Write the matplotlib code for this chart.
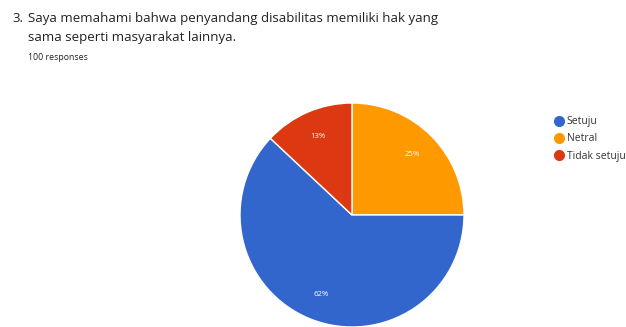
import matplotlib.pyplot as plt
from matplotlib.lines import Line2D

plt.rcParams['font.family'] = ['Open Sans', 'DejaVu Sans']

# answers in legend order
labels = ["Setuju", "Netral", "Tidak setuju"]
percents = [62, 25, 13]
colors = ["#3366cc", "#ff9900", "#dc3912"]

# clockwise from 12 o'clock as drawn in the original
pie_order = [1, 0, 2]

fig = plt.figure(figsize=(6.26, 3.27), dpi=100)
W, H = 626, 327

# question text
fig.text(12 / W, 1 - 22 / H, "3.", fontsize=9.55, color="#202124", va="baseline")
fig.text(28 / W, 1 - 22 / H, "Saya memahami bahwa penyandang disabilitas memiliki hak yang",
         fontsize=9.55, color="#202124", va="baseline")
fig.text(28 / W, 1 - 41 / H, "sama seperti masyarakat lainnya.",
         fontsize=9.55, color="#202124", va="baseline")
fig.text(28 / W, 1 - 60 / H, "100 responses", fontsize=6.3, color="#202124", va="baseline")

# pie area: center (352, 215), radius 112 px
cx, cy, r = 352, 215, 112
ax = fig.add_axes([(cx - r) / W, (H - cy - r) / H, 2 * r / W, 2 * r / H])
wedges, texts, autotexts = ax.pie(
    [percents[i] for i in pie_order],
    colors=[colors[i] for i in pie_order],
    startangle=90, counterclock=False,
    autopct="%d%%", pctdistance=0.76,
    wedgeprops=dict(edgecolor="white", linewidth=1),
    textprops=dict(color="white", fontsize=5.6),
)
ax.set_xlim(-1, 1)
ax.set_ylim(-1, 1)
ax.set_aspect("auto")

# legend
handles = [Line2D([], [], marker="o", linestyle="", markersize=7,
                  markerfacecolor=c, markeredgecolor=c) for c in colors]
fig.legend(handles, labels, loc="upper left",
           bbox_to_anchor=(550 / W, 1 - 111 / H), frameon=False,
           fontsize=7.5, handlelength=0.7, handletextpad=0.4,
           labelspacing=0.6, borderpad=0, labelcolor="#333333")

plt.savefig("out.png", dpi=100)
